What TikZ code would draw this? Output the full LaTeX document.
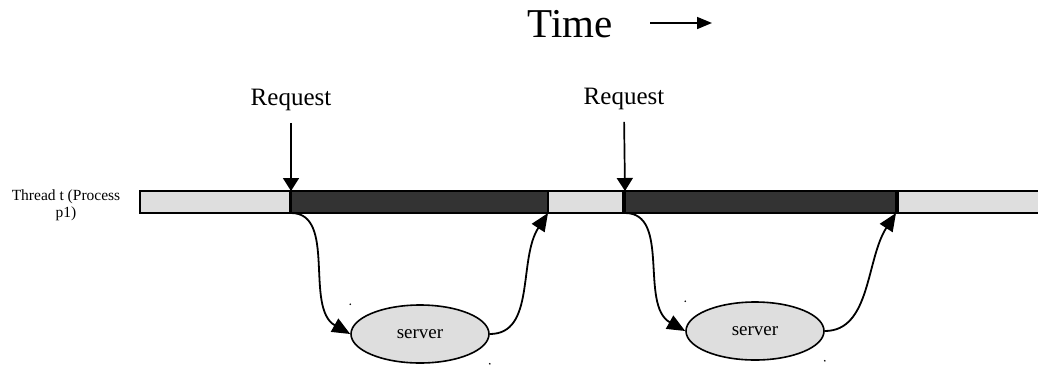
\documentclass[tikz,border=0pt]{standalone}
\usepackage{fontspec}
\setmainfont{Liberation Serif}
\usepackage{tikz}
\usetikzlibrary{arrows.meta, shapes.geometric}
\tikzset{idle/.style={draw, line width=1.6pt, fill=black!13, minimum height=22pt, inner sep=0pt, outer sep=0pt, anchor=north west},
  busy/.style={idle, fill=black!80},
  server/.style={draw, ellipse, line width=1.6pt, fill=black!13, minimum width=138pt, minimum height=58pt, inner sep=0pt, font=\fontsize{19}{22}\selectfont},
  call/.style={line width=1.8pt, -{Triangle[length=18pt, width=15pt]}},
  reqarrow/.style={line width=1.7pt, -{Triangle[length=13pt, width=16pt]}, shorten <=9pt}
}

\begin{document}
\begin{tikzpicture}[x=1pt, y=1pt]
      \useasboundingbox (0,0) rectangle (1038,-365);
      \node[anchor=base, font=\fontsize{41}{46}\selectfont] (time) at (570,-37) {Time};
      \coordinate (timestart) at (650,-23);
      \coordinate (timeend) at (712,-23);
      \draw[line width=1.6pt, -{Triangle[length=15pt, width=12pt]}] (timestart) -- (timeend);
      \node[align=center, font=\fontsize{15.5}{17}\selectfont] (thread) at (66,-205) {Thread t (Process\\p1)};
      \node[idle, minimum width=150pt] (idle1) at (140,-191) {};
      \node[busy, minimum width=257pt] (busy1) at (291,-191) {};
      \node[idle, minimum width=75pt] (idle2) at (548,-191) {};
      \node[busy, minimum width=271pt] (busy2) at (625,-191) {};
      \node[idle, minimum width=160pt] (idle3) at (898,-191) {};
      \node[anchor=base, font=\fontsize{25}{29}\selectfont] (req1) at (291,-105) {Request};
      \node[anchor=base, font=\fontsize{25}{29}\selectfont] (req2) at (624,-104) {Request};
      \draw[reqarrow] (req1.south) -- (busy1.north west);
      \draw[reqarrow] (req2.south) -- (busy2.north west);
      \node[server] (srv1) at (420,-334) {server};
      \node[server] (srv2) at (755,-331) {server};
      \draw[call] (busy1.south west) .. controls +(46,0) and +(-46,26) .. (srv1.west);
      \draw[call] (srv1.east) .. controls +(46,0) and +(-30,-46) .. (busy1.south east);
      \draw[call] (busy2.south west) .. controls +(46,0) and +(-46,26) .. (srv2.west);
      \draw[call] (srv2.east) .. controls +(46,0) and +(-30,-46) .. (busy2.south east);
      \fill (srv1.north -| srv1.west) circle (0.9pt);
      \fill (srv1.south -| srv1.east) circle (0.9pt);
      \fill (srv2.north -| srv2.west) circle (0.9pt);
      \fill (srv2.south -| srv2.east) circle (0.9pt);
    \end{tikzpicture}
\end{document}
